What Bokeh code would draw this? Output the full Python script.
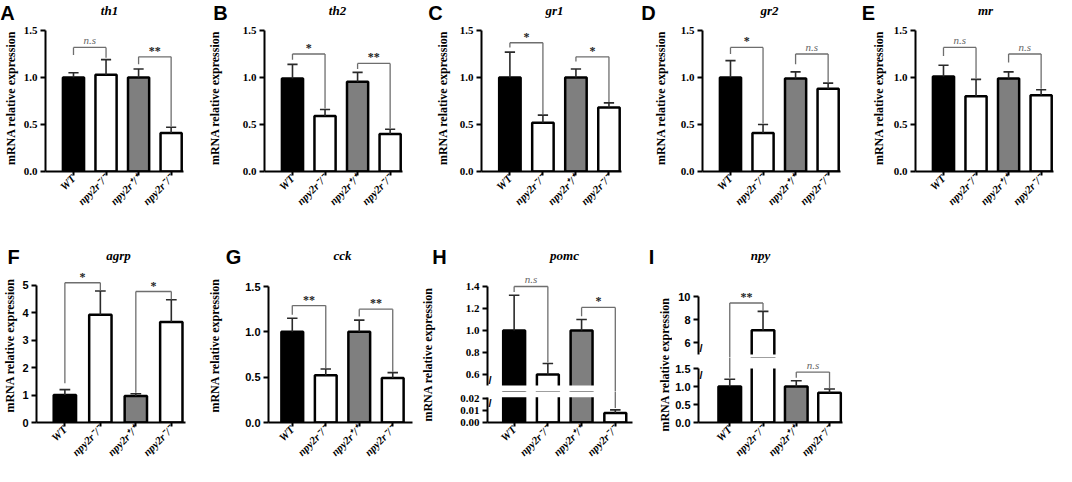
import math
from bokeh.plotting import figure
from bokeh.models import Range1d, FixedTicker, NumeralTickFormatter, Label
from bokeh.layouts import row, column
from bokeh.embed import file_html
from bokeh.resources import INLINE

# ---------------- data ----------------
groups = ["WT", "npy2r⁻/⁻", "npy2r⁺/⁺", "npy2r⁻/⁻"]
group_x = [1, 2, 3, 4]
group_fill = ["#000000", "#ffffff", "#7f7f7f", "#ffffff"]
compare_pairs = [(1, 2), (3, 4)]
y_title = "mRNA relative expression"

# A  th1
th1_mean = [1.00, 1.03, 1.00, 0.41]
th1_sd = [0.05, 0.16, 0.09, 0.06]
th1_sig = ["n.s", "**"]
th1_bracket = [1.32, 1.22]
th1_leg_left = [1.24, 1.14]
th1_leg_right = [1.21, 0.48]

# B  th2
th2_mean = [0.99, 0.59, 0.955, 0.40]
th2_sd = [0.15, 0.07, 0.10, 0.05]
th2_sig = ["*", "**"]
th2_bracket = [1.25, 1.15]
th2_leg_left = [1.19, 1.09]
th2_leg_right = [0.67, 0.46]

# C  gr1
gr1_mean = [1.00, 0.52, 1.00, 0.68]
gr1_sd = [0.27, 0.08, 0.09, 0.05]
gr1_sig = ["*", "*"]
gr1_bracket = [1.37, 1.22]
gr1_leg_left = [1.32, 1.17]
gr1_leg_right = [0.61, 0.74]

# D  gr2
gr2_mean = [1.00, 0.41, 0.99, 0.88]
gr2_sd = [0.18, 0.09, 0.07, 0.06]
gr2_sig = ["*", "n.s"]
gr2_bracket = [1.32, 1.25]
gr2_leg_left = [1.25, 1.14]
gr2_leg_right = [0.51, 0.95]

# E  mr
mr_mean = [1.01, 0.80, 0.99, 0.81]
mr_sd = [0.12, 0.18, 0.07, 0.06]
mr_sig = ["n.s", "n.s"]
mr_bracket = [1.32, 1.25]
mr_leg_left = [1.23, 1.16]
mr_leg_right = [0.99, 0.88]

# F  agrp
agrp_mean = [1.00, 3.93, 0.97, 3.67]
agrp_sd = [0.20, 0.87, 0.08, 0.81]
agrp_sig = ["*", "*"]
agrp_bracket = [5.10, 4.78]
agrp_leg_left = [1.43, 1.09]
agrp_leg_right = [4.82, 4.49]

# G  cck
cck_mean = [1.00, 0.52, 1.00, 0.49]
cck_sd = [0.15, 0.07, 0.13, 0.06]
cck_sig = ["**", "**"]
cck_bracket = [1.29, 1.25]
cck_leg_left = [1.19, 1.17]
cck_leg_right = [0.60, 0.56]

# H  pomc
pomc_mean = [1.00, 0.60, 1.00, 0.008]
pomc_sd = [0.32, 0.10, 0.10, 0.0025]
pomc_sig = ["n.s", "*"]
pomc_bracket = [1.40, 1.21]
pomc_leg_left = [1.35, 1.13]
pomc_leg_right = [0.71, 0.012]

# I  npy
npy_mean = [1.00, 7.10, 1.00, 0.83]
npy_sd = [0.20, 1.62, 0.16, 0.10]
npy_sig = ["**", "n.s"]
npy_bracket = [9.44, 1.40]
npy_leg_left = [1.24, 1.24]
npy_leg_right = [8.78, 0.95]

# ---------------- styling / layout ----------------
SERIF = "Liberation Serif"
SANS = "Liberation Sans"
ERR_C = "#2a2a2a"
BR_C = "#6e6e6e"

HEAD_TOP = (8, 24)       # page y, height of the header strip above the top row
TOP_ROW = (32, 198)      # page y, height of the top row of panels
HEAD_BOT = (230, 46)
BOT_ROW = (276, 198)

STD_TOP = dict(yr=(0, 1.564), bounds=(0, 1.5), ticks=[0, 0.5, 1.0, 1.5], fmt="0.0", top=32, bottom=179)


def series(mean, sd, sig, bracket, leg_left, leg_right, gene, letter):
    return dict(mean=mean, sd=sd, sig=sig, bracket=bracket, leg_left=leg_left,
                leg_right=leg_right, gene=gene, letter=letter)


panels_top = [
    (series(th1_mean, th1_sd, th1_sig, th1_bracket, th1_leg_left, th1_leg_right, "th1", "A"),
     dict(fig_left=8, width=204, frame_left=48, frame_w=143, xr=(0.14, 4.38), bw=0.65,
          segs=[STD_TOP], tick_font=SERIF, standoff=3, title=(117, 18), letter=(15, 20))),
    (series(th2_mean, th2_sd, th2_sig, th2_bracket, th2_leg_left, th2_leg_right, "th2", "B"),
     dict(fig_left=212, width=228, frame_left=267, frame_w=143, xr=(0.14, 4.38), bw=0.65,
          segs=[STD_TOP], tick_font=SERIF, standoff=18, title=(345, 18), letter=(228, 20))),
    (series(gr1_mean, gr1_sd, gr1_sig, gr1_bracket, gr1_leg_left, gr1_leg_right, "gr1", "C"),
     dict(fig_left=440, width=218, frame_left=486, frame_w=143, xr=(0.14, 4.38), bw=0.65,
          segs=[STD_TOP], tick_font=SERIF, standoff=7, title=(562, 18), letter=(443, 20))),
    (series(gr2_mean, gr2_sd, gr2_sig, gr2_bracket, gr2_leg_left, gr2_leg_right, "gr2", "D"),
     dict(fig_left=658, width=218, frame_left=705, frame_w=143, xr=(0.14, 4.38), bw=0.65,
          segs=[STD_TOP], tick_font=SERIF, standoff=10, title=(777, 18), letter=(656, 20))),
    (series(mr_mean, mr_sd, mr_sig, mr_bracket, mr_leg_left, mr_leg_right, "mr", "E"),
     dict(fig_left=876, width=188, frame_left=918, frame_w=143, xr=(0.14, 4.38), bw=0.65,
          segs=[STD_TOP], tick_font=SERIF, standoff=5, title=(993, 18), letter=(876, 20))),
]

# every plot of the bottom row has its frame from page y 276 to 430
cfg_F = dict(fig_left=8, width=205, frame_left=43, frame_w=150, xr=(0.20, 4.40), bw=0.63,
             segs=[dict(yr=(0, 5.62), bounds=(0, 5), ticks=[0, 1, 2, 3, 4, 5], fmt="0", top=276, bottom=430)],
             tick_font=SANS, standoff=2, title=(126, 263), letter=(21, 264))
cfg_G = dict(fig_left=213, width=212, frame_left=275, frame_w=145, xr=(0.29, 4.59), bw=0.65,
             segs=[dict(yr=(0, 1.699), bounds=(0, 1.5), ticks=[0, 0.5, 1.0, 1.5], fmt="0.0", top=276, bottom=430)],
             tick_font=SANS, standoff=20, title=(350, 263), letter=(241, 264))
cfg_H = dict(fig_left=445, width=217, frame_left=495, frame_w=145, xr=(0.21, 4.51), bw=0.65,
             segs=[dict(yr=(0.4455, 1.5636), bounds=(0.5, 1.4), ticks=[0.6, 0.8, 1.0, 1.2, 1.4], fmt="0.0", top=276, bottom=399),
                   dict(yr=(0, 0.0258), bounds=(0, 0.021), ticks=[0, 0.01, 0.02], fmt="0.00", top=399, bottom=430)],
             tick_font=SERIF, title=(572, 263), letter=(447, 264),
             label_fig=(425, 20, 3), label_center=362)
cfg_I = dict(fig_left=680, width=180, frame_left=705, frame_w=145, xr=(0.06, 4.39), bw=0.68,
             segs=[dict(yr=(4.741, 12.414), bounds=(5, 10), ticks=[6, 8, 10], fmt="0", top=276, bottom=365),
                   dict(yr=(0, 1.806), bounds=(0, 1.5), ticks=[0, 0.5, 1.0, 1.5], fmt="0.0", top=365, bottom=430)],
             tick_font=SANS, title=(768, 263), letter=(659, 264),
             label_fig=(662, 18, 2), label_center=372)


def bare_fig(width, height, xr, yr):
    p = figure(width=width, height=height, x_range=Range1d(*xr), y_range=Range1d(*yr),
               x_axis_location=None, y_axis_location=None, output_backend="svg",
               toolbar_location=None, min_border=0, min_border_left=0, min_border_right=0,
               min_border_top=0, min_border_bottom=0)
    p.title.visible = False
    p.outline_line_color = None
    p.grid.visible = False
    return p


def make_segment(d, cfg, seg, row_geom, first, last, broken):
    row_top, row_h = row_geom
    lb = cfg["frame_left"] - cfg["fig_left"]
    rb = cfg["width"] - lb - cfg["frame_w"]
    tb = seg["top"] - row_top if first else 0
    bb = row_top + row_h - seg["bottom"] if last else 0
    height = (seg["bottom"] + bb) - (row_top if first else seg["top"])
    p = figure(width=cfg["width"], height=height,
               x_range=Range1d(*cfg["xr"]), y_range=Range1d(*seg["yr"]),
               x_axis_location="below" if last else None,
               output_backend="svg", toolbar_location=None, min_border=0,
               min_border_left=lb, min_border_right=rb, min_border_top=tb, min_border_bottom=bb)
    p.title.visible = False
    p.outline_line_color = None
    p.grid.visible = False
    p.background_fill_color = "white"
    p.border_fill_color = "white"

    ya = p.yaxis[0]
    ya.ticker = FixedTicker(ticks=seg["ticks"])
    ya.formatter = NumeralTickFormatter(format=seg["fmt"])
    ya.bounds = seg["bounds"]
    ya.axis_line_width = 2
    ya.major_tick_line_width = 2
    ya.major_tick_out = 5
    ya.major_tick_in = 0
    ya.minor_tick_line_color = None
    ya.major_label_standoff = 3
    ya.major_label_text_font = cfg["tick_font"]
    ya.major_label_text_font_style = "bold"
    ya.major_label_text_font_size = "11px"
    ya.major_label_text_color = "black"
    if not broken:
        ya.axis_label = y_title
        ya.axis_label_text_font = SERIF
        ya.axis_label_text_font_style = "bold"
        ya.axis_label_text_font_size = "12px"
        ya.axis_label_text_color = "black"
        ya.axis_label_standoff = cfg["standoff"]

    if last:
        xa = p.xaxis[0]
        xa.ticker = FixedTicker(ticks=group_x)
        xa.major_label_overrides = {x: g for x, g in zip(group_x, groups)}
        xa.major_label_orientation = math.pi / 4
        xa.major_label_text_font = SERIF
        xa.major_label_text_font_style = "bold italic"
        xa.major_label_text_font_size = "11px"
        xa.major_label_text_color = "black"
        xa.major_label_standoff = 1
        xa.axis_line_width = 2
        xa.major_tick_line_width = 2
        xa.major_tick_out = 4
        xa.major_tick_in = 0
        xa.minor_tick_line_color = None

    mean, sd = d["mean"], d["sd"]
    err = [m + s for m, s in zip(mean, sd)]
    cap = cfg["bw"] * 0.24
    p.vbar(x=group_x, top=mean, bottom=0, width=cfg["bw"], fill_color=group_fill,
           line_color="black", line_width=2.5)
    p.segment(x0=group_x, y0=mean, x1=group_x, y1=err, line_color=ERR_C, line_width=1.6)
    p.segment(x0=[x - cap for x in group_x], y0=err, x1=[x + cap for x in group_x], y1=err,
              line_color=ERR_C, line_width=1.6)

    lo, hi = seg["yr"]
    if broken:
        if first:
            p.quad(left=[cfg["xr"][0]], right=[cfg["xr"][1]], bottom=[lo], top=[seg["bounds"][0]],
                   fill_color="white", line_color=None)
        else:
            p.quad(left=[cfg["xr"][0]], right=[cfg["xr"][1]], bottom=[seg["bounds"][1]], top=[hi],
                   fill_color="white", line_color=None)

    bx0 = [a for a, b in compare_pairs]
    bx1 = [b for a, b in compare_pairs]
    p.segment(x0=bx0, y0=d["bracket"], x1=bx1, y1=d["bracket"], line_color=BR_C, line_width=1.3)
    p.segment(x0=bx0, y0=d["bracket"], x1=bx0, y1=d["leg_left"], line_color=BR_C, line_width=1.3)
    p.segment(x0=bx1, y0=d["bracket"], x1=bx1, y1=d["leg_right"], line_color=BR_C, line_width=1.3)
    for (a, b), h, s in zip(compare_pairs, d["bracket"], d["sig"]):
        if lo <= h <= hi:
            ns = s.startswith("n")
            p.add_layout(Label(x=(a + b) / 2, y=h, text=s, text_align="center", text_baseline="bottom",
                               y_offset=1 if ns else -1, text_font=SERIF,
                               text_font_style="italic" if ns else "bold",
                               text_font_size="11px" if ns else "12px",
                               text_color="#666666" if ns else "#222222"))
    return p


def label_column(cfg, row_geom):
    """Narrow figure whose only content is the shared y-axis title of a broken-axis panel."""
    row_top, row_h = row_geom
    lf_left, lf_w, pad = cfg["label_fig"]
    cy = cfg["label_center"]
    half = 60
    tb = cy - half - row_top
    bb = row_top + row_h - (cy + half)
    lf = figure(width=lf_w, height=row_h, x_range=Range1d(0, 1), y_range=Range1d(0, 1),
                x_axis_location=None, y_axis_location="left", output_backend="svg",
                toolbar_location=None, min_border=0, min_border_left=pad, min_border_right=0,
                min_border_top=tb, min_border_bottom=bb)
    lf.title.visible = False
    lf.outline_line_color = None
    lf.grid.visible = False
    ya = lf.yaxis[0]
    ya.ticker = FixedTicker(ticks=[])
    ya.axis_line_color = None
    ya.major_tick_line_color = None
    ya.minor_tick_line_color = None
    ya.major_tick_out = 0
    ya.major_tick_in = 0
    ya.major_label_standoff = 0
    ya.major_label_text_font_size = "0px"
    ya.axis_label = y_title
    ya.axis_label_standoff = 0
    ya.axis_label_text_font = SERIF
    ya.axis_label_text_font_style = "bold"
    ya.axis_label_text_font_size = "12px"
    ya.axis_label_text_color = "black"
    return lf


def make_panel(d, cfg, row_geom, head):
    segs = cfg["segs"]
    tx, ty = cfg["title"]
    head.text(x=[tx], y=[ty], text=[d["gene"]], text_align="center", text_baseline="middle",
              text_font={"value": SERIF}, text_font_style="bold italic", text_font_size="13px",
              text_color="black")
    lx, ly = cfg["letter"]
    head.text(x=[lx], y=[ly], text=[d["letter"]], text_align="center", text_baseline="middle",
              text_font={"value": SANS}, text_font_style="bold", text_font_size="20px",
              text_color="black")
    if len(segs) == 1:
        return make_segment(d, cfg, segs[0], row_geom, True, True, False)
    figs = [make_segment(d, cfg, s, row_geom, i == 0, i == len(segs) - 1, True) for i, s in enumerate(segs)]
    lf = label_column(cfg, row_geom)
    # axis-break marks, drawn just inside each segment next to the break
    figs[0].add_layout(Label(x=1, y=segs[0]["bounds"][0], x_units="screen", text="/", text_align="left",
                             text_baseline="bottom", text_font=SANS, text_font_style="bold",
                             text_font_size="11px", text_color="black"))
    figs[1].add_layout(Label(x=1, y=segs[1]["bounds"][1], x_units="screen", text="/", text_align="left",
                             text_baseline="top", text_font=SANS, text_font_style="bold",
                             text_font_size="11px", text_color="black"))
    return row(lf, column(*figs, spacing=0), spacing=0)


head_top = bare_fig(1056, HEAD_TOP[1], (8, 1064), (HEAD_TOP[0] + HEAD_TOP[1], HEAD_TOP[0]))
head_bot = bare_fig(1056, HEAD_BOT[1], (8, 1064), (HEAD_BOT[0] + HEAD_BOT[1], HEAD_BOT[0]))

top_children = [make_panel(d, cfg, TOP_ROW, head_top) for d, cfg in panels_top]

bot_children = [
    make_panel(series(agrp_mean, agrp_sd, agrp_sig, agrp_bracket, agrp_leg_left, agrp_leg_right, "agrp", "F"), cfg_F, BOT_ROW, head_bot),
    make_panel(series(cck_mean, cck_sd, cck_sig, cck_bracket, cck_leg_left, cck_leg_right, "cck", "G"), cfg_G, BOT_ROW, head_bot),
    make_panel(series(pomc_mean, pomc_sd, pomc_sig, pomc_bracket, pomc_leg_left, pomc_leg_right, "pomc", "H"), cfg_H, BOT_ROW, head_bot),
    make_panel(series(npy_mean, npy_sd, npy_sig, npy_bracket, npy_leg_left, npy_leg_right, "npy", "I"), cfg_I, BOT_ROW, head_bot),
]

layout = column(head_top, row(*top_children, spacing=0), head_bot, row(*bot_children, spacing=0), spacing=0)

open("out.html", "w").write(file_html(layout, INLINE))
